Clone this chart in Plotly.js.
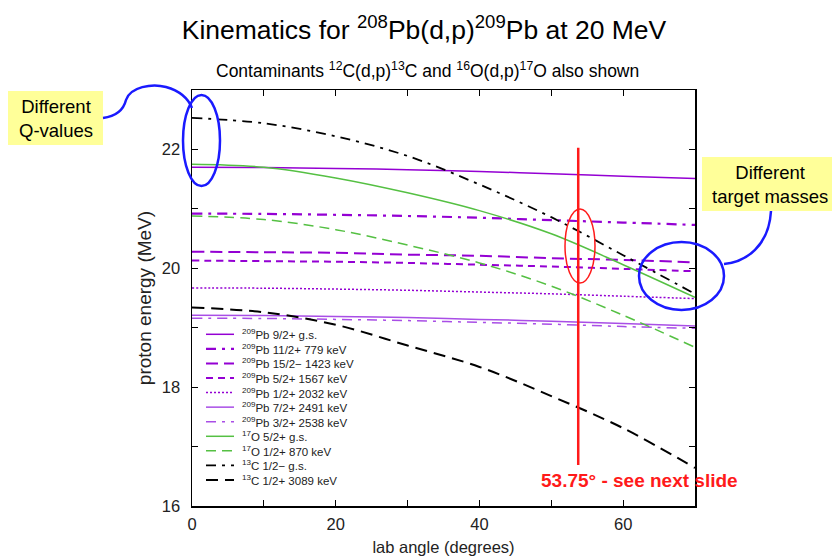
<!DOCTYPE html>
<html>
<head>
<meta charset="utf-8">
<script src="https://cdn.plot.ly/plotly-3.0.1.min.js"></script>
<style>html,body{margin:0;padding:0;background:#fff;}#chart{width:832px;height:556px;}</style>
</head>
<body>
<div id="chart"></div>
<script>
// ---- data ----
const angles = [0, 10, 20, 30, 40, 50, 60, 70];
const pb_gs    = [21.70, 21.695, 21.68, 21.66, 21.63, 21.59, 21.55, 21.51];
const pb_779   = [20.92, 20.915, 20.90, 20.88, 20.85, 20.81, 20.77, 20.73];
const pb_1423  = [20.28, 20.27, 20.26, 20.23, 20.21, 20.17, 20.14, 20.10];
const pb_1567  = [20.13, 20.12, 20.11, 20.09, 20.06, 20.03, 19.99, 19.95];
const pb_2032  = [19.67, 19.665, 19.65, 19.63, 19.60, 19.57, 19.53, 19.49];
const pb_2491  = [19.21, 19.205, 19.19, 19.17, 19.14, 19.11, 19.07, 19.03];
const pb_2538  = [19.16, 19.155, 19.14, 19.12, 19.09, 19.06, 19.02, 18.99];
const o_gs     = [21.75, 21.70, 21.52, 21.27, 20.97, 20.58, 20.06, 19.51];
const o_870    = [20.88, 20.82, 20.65, 20.39, 20.09, 19.70, 19.21, 18.67];
const c_gs     = [22.53, 22.44, 22.22, 21.89, 21.41, 20.86, 20.22, 19.57];
const c_3089   = [19.34, 19.26, 19.05, 18.70, 18.34, 17.85, 17.31, 16.64];
const seriesNames = [
  "<sup>209</sup>Pb 9/2+ g.s.",
  "<sup>209</sup>Pb 11/2+ 779 keV",
  "<sup>209</sup>Pb 15/2\u2212 1423 keV",
  "<sup>209</sup>Pb 5/2+ 1567 keV",
  "<sup>209</sup>Pb 1/2+ 2032 keV",
  "<sup>209</sup>Pb 7/2+ 2491 keV",
  "<sup>209</sup>Pb 3/2+ 2538 keV",
  "<sup>17</sup>O 5/2+ g.s.",
  "<sup>17</sup>O 1/2+ 870 keV",
  "<sup>13</sup>C 1/2\u2212 g.s.",
  "<sup>13</sup>C 1/2+ 3089 keV"
];
const seriesValues = [pb_gs, pb_779, pb_1423, pb_1567, pb_2032, pb_2491, pb_2538, o_gs, o_870, c_gs, c_3089];
const xTickVals = [0, 20, 40, 60];
const yTickVals = [16, 18, 20, 22];
const markAngle = 53.75;
const markRange = [16.69, 22.03];
const markLabel = "53.75\u00b0 - see next slide";

// ---- styles ----
const PURPLE = "#9400d3", LPURPLE = "#a94ee6", GREEN = "#55c043", BLACK = "#000000";
const styles = [
  {color: PURPLE,  width: 1.5, dash: "solid"},
  {color: PURPLE,  width: 2.2, dash: "10px,6px,3px,6px"},
  {color: PURPLE,  width: 2.0, dash: "12px,6px"},
  {color: PURPLE,  width: 2.0, dash: "7px,5px"},
  {color: PURPLE,  width: 1.5, dash: "2px,2px"},
  {color: LPURPLE, width: 1.5, dash: "solid"},
  {color: LPURPLE, width: 1.5, dash: "10px,6px,3px,6px"},
  {color: GREEN,   width: 1.5, dash: "solid"},
  {color: GREEN,   width: 1.5, dash: "10px,6px"},
  {color: BLACK,   width: 1.8, dash: "10px,6px,3px,6px"},
  {color: BLACK,   width: 2.0, dash: "12px,7px"}
];

const traces = seriesValues.map((ys, i) => ({
  type: "scatter", mode: "lines", x: angles, y: ys, name: seriesNames[i],
  line: {color: styles[i].color, width: styles[i].width, dash: styles[i].dash, shape: "spline", smoothing: 1},
  showlegend: false, hoverinfo: "skip"
}));

// pixel -> paper helpers for decorations
const P = {l: 192, r: 695, t: 90, b: 506};
const fx = px => (px - P.l) / (P.r - P.l);
const fy = py => (P.b - py) / (P.b - P.t);
function pathPx(cmds) {
  return cmds.map(c => {
    if (typeof c === "string") return c;
    return fx(c[0]).toFixed(5) + "," + fy(c[1]).toFixed(5);
  }).join(" ");
}

const shapes = [];
const annotations = [];

// custom compact legend
const legX0 = 206, legX1 = 234, legTextX = 240, legY0 = 334.3, legDy = 14.57;
seriesNames.forEach((nm, i) => {
  const y = legY0 + i * legDy;
  shapes.push({type: "line", xref: "paper", yref: "paper", x0: fx(legX0), x1: fx(legX1), y0: fy(y), y1: fy(y),
    line: {color: styles[i].color, width: styles[i].width, dash: styles[i].dash}});
  annotations.push({xref: "paper", yref: "paper", x: fx(legTextX), y: fy(y), xanchor: "left", yanchor: "middle",
    text: nm, showarrow: false, font: {size: 11.5, color: "#222"}});
});

// red marker line at 53.75 deg
shapes.push({type: "line", xref: "x", yref: "y", x0: markAngle, x1: markAngle, y0: markRange[0], y1: markRange[1],
  line: {color: "#ff1a1a", width: 2.5}});
// red ellipse
shapes.push({type: "circle", xref: "paper", yref: "paper", x0: fx(565), x1: fx(595), y0: fy(209), y1: fy(283),
  line: {color: "#ff1a1a", width: 1.5}});
annotations.push({xref: "paper", yref: "paper", x: fx(539), y: fy(480), xanchor: "left", yanchor: "middle",
  text: "<b>" + markLabel + "</b>", showarrow: false, font: {size: 19, color: "#ff1a1a"}});

// blue ellipses
const BLUE = "#1a1aff";
shapes.push({type: "circle", xref: "paper", yref: "paper", x0: fx(183), x1: fx(220), y0: fy(95), y1: fy(186),
  line: {color: BLUE, width: 2.5}});
shapes.push({type: "circle", xref: "paper", yref: "paper", x0: fx(639), x1: fx(724), y0: fy(242), y1: fy(310),
  line: {color: BLUE, width: 2.5}});
// connectors
shapes.push({type: "path", xref: "paper", yref: "paper", line: {color: BLUE, width: 2.5},
  path: pathPx(["M", [103, 118], "C", [118, 116], [124, 108], [126, 100], "C", [130, 87], [152, 83], [166, 87], "C", [180, 91], [188, 98], [192, 108]])});
shapes.push({type: "path", xref: "paper", yref: "paper", line: {color: BLUE, width: 2.5},
  path: pathPx(["M", [724, 264], "C", [746, 262], [769, 246], [771, 211]])});

// yellow callout boxes
shapes.push({type: "rect", xref: "paper", yref: "paper", x0: fx(8), x1: fx(103), y0: fy(91), y1: fy(145),
  fillcolor: "#ffff99", line: {width: 0}, layer: "below"});
shapes.push({type: "rect", xref: "paper", yref: "paper", x0: fx(702), x1: fx(840), y0: fy(157), y1: fy(211),
  fillcolor: "#ffff99", line: {width: 0}, layer: "below"});
annotations.push({xref: "paper", yref: "paper", x: fx(56), y: fy(118), xanchor: "center", yanchor: "middle",
  text: "Different<br>Q-values", showarrow: false, font: {size: 18.5, color: "#000"}});
annotations.push({xref: "paper", yref: "paper", x: fx(770), y: fy(184), xanchor: "center", yanchor: "middle",
  text: "Different<br>target masses", showarrow: false, font: {size: 18.5, color: "#000"}});

// subtitle
annotations.push({xref: "paper", yref: "paper", x: fx(427), y: fy(70), xanchor: "center", yanchor: "middle",
  text: "Contaminants <sup>12</sup>C(d,p)<sup>13</sup>C and <sup>16</sup>O(d,p)<sup>17</sup>O also shown",
  showarrow: false, font: {size: 17.5, color: "#000"}});

const axisCommon = {
  showgrid: false, zeroline: false, showline: true, linecolor: "#000", linewidth: 1.5,
  ticks: "inside", ticklen: 6, tickwidth: 1.2, tickcolor: "#000", mirror: "allticks",
  tickfont: {size: 16.5, color: "#222"}
};

const layout = {
  width: 832, height: 556,
  margin: {l: P.l, r: 832 - P.r, t: P.t, b: 556 - P.b},
  paper_bgcolor: "#fff", plot_bgcolor: "#fff",
  font: {family: "Liberation Sans, Arial, Helvetica, sans-serif", color: "#000"},
  title: {text: "Kinematics for <sup>208</sup>Pb(d,p)<sup>209</sup>Pb at 20 MeV",
    font: {size: 26.5, color: "#000"}, xref: "container", yref: "container",
    x: 424 / 832, xanchor: "center", y: 1 - 30 / 556, yanchor: "middle"},
  xaxis: Object.assign({}, axisCommon, {range: [0, 70], tickmode: "array", tickvals: xTickVals,
    ticklabelstandoff: 3,
    minor: {dtick: 10, ticks: "inside", ticklen: 6, tickcolor: "#000", tickwidth: 1.2},
    title: {text: "lab angle (degrees)", font: {size: 16.5, color: "#222"}, standoff: 9}}),
  yaxis: Object.assign({}, axisCommon, {range: [16, 23], tickmode: "array", tickvals: yTickVals,
    ticklabelstandoff: 7,
    minor: {dtick: 1, ticks: "inside", ticklen: 6, tickcolor: "#000", tickwidth: 1.2},
    title: {text: "proton energy (MeV)", font: {size: 19, color: "#222"}, standoff: 5}}),
  shapes: shapes,
  annotations: annotations,
  showlegend: false
};

Plotly.newPlot("chart", traces, layout, {staticPlot: true, displayModeBar: false});
</script>
</body>
</html>
